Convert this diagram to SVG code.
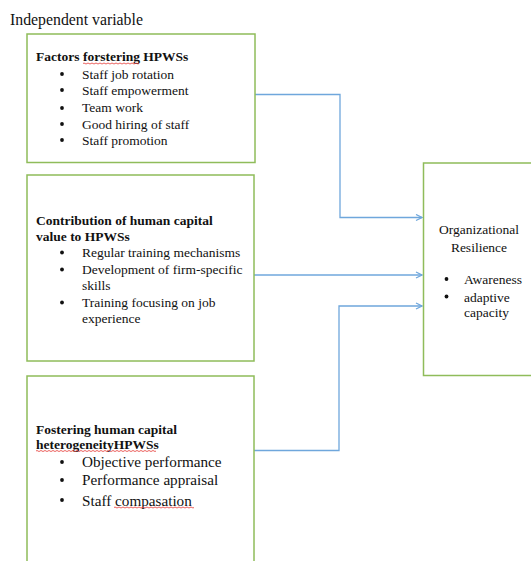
<svg xmlns="http://www.w3.org/2000/svg" width="531" height="561" viewBox="0 0 531 561">
<style>
.box{fill:#fff;stroke:#8fbc5a;stroke-width:1.5}
.t{font-family:"Liberation Serif","Times New Roman",serif;font-size:13.5px;fill:#111}
.b{font-weight:bold}
.big{font-size:15.2px}
.c{fill:none;stroke:#6fa7dc;stroke-width:1.3}
.sq{fill:none;stroke:#e53935;stroke-width:0.8}
</style>
<defs>
<marker id="ah" markerWidth="8" markerHeight="8" refX="7" refY="4" orient="auto" markerUnits="userSpaceOnUse">
<path d="M1,1 L7,4 L1,7" fill="none" stroke="#6fa7dc" stroke-width="1.3"/>
</marker>
</defs>
<rect width="531" height="561" fill="#fff"/>
<text class="t" x="10" y="25" style="font-size:15.8px">Independent variable</text>
<g id="connectors">
<path class="c" d="M255,94.5 H340 V217.5 H422" marker-end="url(#ah)"/>
<path class="c" d="M254,275 H422" marker-end="url(#ah)"/>
<path class="c" d="M254,450.5 H339 V306 H422" marker-end="url(#ah)"/>
</g>
<g id="box1">
<rect class="box" x="27" y="34" width="228" height="128.5"/>
<text class="t b" x="36" y="61">Factors <tspan x="83">forstering HPWSs</tspan></text>
<path class="sq" d="M83,63.5 q1,-1 2,0 t2,0 t2,0 t2,0 t2,0 t2,0 t2,0 t2,0 t2,0 t2,0 t2,0 t2,0 t2,0 t2,0 t2,0 t2,0 t2,0 t2,0 t2,0 t2,0 t2,0 t2,0 t2,0 t2,0 t2,0 t2,0 t2,0 t2,0"/>
<g class="t">
<circle cx="62" cy="74" r="1.9"/><text x="82" y="78.5">Staff job rotation</text>
<circle cx="62" cy="90" r="1.9"/><text x="82" y="94.5">Staff empowerment</text>
<circle cx="62" cy="108" r="1.9"/><text x="82" y="112">Team  work</text>
<circle cx="62" cy="124" r="1.9"/><text x="82" y="128.5">Good hiring of staff</text>
<circle cx="62" cy="140" r="1.9"/><text x="82" y="144.5">Staff promotion</text>
</g>
</g>
<g id="box2">
<rect class="box" x="27" y="175" width="227" height="186"/>
<text class="t b" x="36" y="225">Contribution of human capital</text>
<text class="t b" x="36" y="240.5">value to HPWSs</text>
<g class="t">
<circle cx="62" cy="252.5" r="1.9"/><text x="82" y="257">Regular training mechanisms</text>
<circle cx="62" cy="269.5" r="1.9"/><text x="82" y="274">Development  of firm-specific</text>
<text x="82" y="289.5">skills</text>
<circle cx="62" cy="302.5" r="1.9"/><text x="82" y="307">Training  focusing  on job</text>
<text x="82" y="322.5">experience</text>
</g>
</g>
<g id="box3">
<rect class="box" x="27" y="376" width="227" height="200"/>
<text class="t b" x="36" y="433.5">Fostering  human capital</text>
<text class="t b" x="36" y="449">heterogeneityHPWSs</text>
<path class="sq" d="M36,451 q1,-1 2,0 t2,0 t2,0 t2,0 t2,0 t2,0 t2,0 t2,0 t2,0 t2,0 t2,0 t2,0 t2,0 t2,0 t2,0 t2,0 t2,0 t2,0 t2,0 t2,0 t2,0 t2,0 t2,0 t2,0 t2,0 t2,0 t2,0 t2,0 t2,0 t2,0 t2,0 t2,0 t2,0 t2,0 t2,0 t2,0 t2,0 t2,0 t2,0 t2,0 t2,0 t2,0 t2,0 t2,0 t2,0 t2,0 t2,0 t2,0 t2,0 t2,0 t2,0 t2,0 t2,0 t2,0 t2,0 t2,0 t2,0 t2,0 t2,0 t2,0"/>
<g class="t big">
<circle cx="62" cy="462" r="1.9"/><text x="82" y="467">Objective performance</text>
<circle cx="62" cy="480" r="1.9"/><text x="82" y="485">Performance appraisal</text>
<circle cx="62" cy="500" r="1.9"/><text x="82" y="505.5">Staff compasation</text>
</g>
<path class="sq" d="M114,507.5 q1,-1 2,0 t2,0 t2,0 t2,0 t2,0 t2,0 t2,0 t2,0 t2,0 t2,0 t2,0 t2,0 t2,0 t2,0 t2,0 t2,0 t2,0 t2,0 t2,0 t2,0 t2,0 t2,0 t2,0 t2,0 t2,0 t2,0 t2,0 t2,0 t2,0 t2,0 t2,0 t2,0 t2,0 t2,0 t2,0 t2,0 t2,0 t2,0 t2,0 t2,0"/>
</g>
<g id="outcome">
<rect class="box" x="423.5" y="163" width="120" height="212.5"/>
<text class="t" x="479" y="233.5" text-anchor="middle">Organizational</text>
<text class="t" x="479" y="252" text-anchor="middle">Resilience</text>
<g class="t">
<circle cx="446.5" cy="279" r="1.9"/><text x="464" y="283.5">Awareness</text>
<circle cx="446.5" cy="296.5" r="1.9"/><text x="464" y="301.5">adaptive</text>
<text x="464" y="316.5">capacity</text>
</g>
</g>
</svg>
